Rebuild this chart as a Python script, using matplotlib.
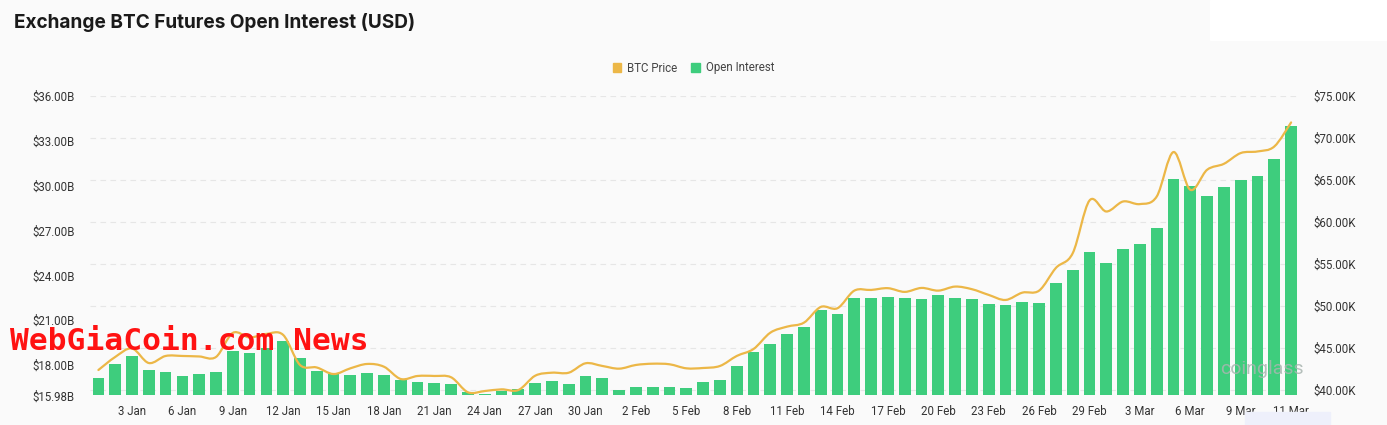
import numpy as np
import pandas as pd
import matplotlib
matplotlib.use("Agg")
import matplotlib.pyplot as plt
from matplotlib.path import Path
from matplotlib.patches import PathPatch, Patch, Rectangle
from matplotlib.ticker import FuncFormatter

# daily points, 1 Jan - 11 Mar 2024 plus the live point for 11 Mar
days = [f"{d.day} {d:%b}" for d in pd.date_range("2024-01-01", "2024-03-11")] + ["11 Mar"]

# open interest, billions USD
open_interest = [
    17.16, 18.06, 18.63, 17.70, 17.52, 17.30, 17.41, 17.52, 18.95, 18.79,
    19.13, 19.61, 18.46, 17.63, 17.39, 17.32, 17.50, 17.36, 17.04, 16.90,
    16.79, 16.74, 16.19, 16.09, 16.29, 16.39, 16.81, 16.92, 16.72, 17.28,
    17.14, 16.36, 16.56, 16.54, 16.54, 16.45, 16.90, 17.01, 17.96, 18.88,
    19.39, 20.08, 20.55, 21.70, 21.42, 22.49, 22.49, 22.53, 22.49, 22.44,
    22.67, 22.49, 22.40, 22.09, 22.00, 22.24, 22.15, 23.52, 24.36, 25.54,
    24.80, 25.74, 26.07, 27.16, 30.44, 29.99, 29.30, 29.88, 30.37, 30.66,
    31.77, 33.98,
]

# btc price, thousands USD
btc_price = [
    42.38, 43.93, 44.94, 43.21, 44.05, 44.05, 43.99, 43.93, 46.79, 46.25,
    46.67, 46.55, 42.98, 42.68, 41.90, 42.58, 43.10, 42.77, 41.31, 41.67,
    41.67, 41.51, 39.73, 39.88, 40.08, 40.00, 41.70, 42.06, 42.06, 43.18,
    42.86, 42.54, 42.98, 43.13, 43.06, 42.58, 42.62, 42.86, 44.05, 44.88,
    46.82, 47.54, 48.01, 49.88, 49.73, 51.82, 51.90, 52.11, 51.67, 52.14,
    51.82, 52.30, 51.99, 51.31, 50.71, 51.58, 51.82, 54.52, 56.27, 62.54,
    61.23, 62.42, 62.11, 63.01, 68.30, 63.81, 66.19, 66.90, 68.18, 68.37,
    68.96, 71.82,
]

oi_ticks = [15.98, 18, 21, 24, 27, 30, 33, 36]
price_ticks = [40, 45, 50, 55, 60, 65, 70, 75]

BG = "#fafafa"
GREEN = "#3ecd7d"
GOLD = "#ecb747"
TXT = "#333333"


def smooth_path(xs, ys):
    # catmull-rom through the points, as bezier segments
    pts = np.column_stack([xs, ys])
    verts = [pts[0]]
    codes = [Path.MOVETO]
    n = len(pts)
    for i in range(n - 1):
        p0 = pts[max(i - 1, 0)]
        p1 = pts[i]
        p2 = pts[i + 1]
        p3 = pts[min(i + 2, n - 1)]
        c1 = p1 + (p2 - p0) / 6.0
        c2 = p2 - (p3 - p1) / 6.0
        verts += [c1, c2, p2]
        codes += [Path.CURVE4] * 3
    return Path(verts, codes)


fig = plt.figure(figsize=(13.87, 4.25), dpi=100, facecolor=BG)
plt.rcParams["font.family"] = ["Roboto", "DejaVu Sans"]

ax = fig.add_axes([90 / 1387, 29.6 / 425, 1209.5 / 1387, 299.7 / 425])
ax.set_facecolor(BG)
ax_oi = ax.twinx()
ax_px = ax.twinx()
x = np.arange(len(days))

# price axis (right side) carries the dashed grid
ax.yaxis.tick_right()
ax.set_ylim(39.36, 75)
ax.set_yticks(price_ticks)
ax.yaxis.set_major_formatter(FuncFormatter(lambda v, p: f"${v:.2f}K"))
ax.grid(axis="y", color="#e6e6e6", linestyle=(0, (5, 4)), linewidth=0.8)
ax.set_axisbelow(True)

ax_oi.yaxis.tick_left()
ax_oi.bar(x, open_interest, width=0.7, color=GREEN, zorder=2)
ax_oi.set_ylim(15.98, 36)
ax_oi.set_yticks(oi_ticks)
ax_oi.yaxis.set_major_formatter(FuncFormatter(lambda v, p: f"${v:.2f}B"))

ax_px.set_ylim(39.36, 75)
ax_px.add_patch(PathPatch(smooth_path(x, btc_price), facecolor="none",
                          edgecolor=GOLD, linewidth=1.6, capstyle="round"))
ax_px.set_yticks([])

tick_idx = list(range(2, len(days) - 2, 3)) + [len(days) - 1]
for a in (ax, ax_oi, ax_px):
    a.set_xlim(-0.5, len(days) - 0.5)
    for s in a.spines.values():
        s.set_visible(False)
ax.set_xticks(tick_idx)
ax.set_xticklabels([days[i] for i in tick_idx])
ax.tick_params(axis="x", length=0, pad=7, labelsize=8.3, colors=TXT)
ax.tick_params(axis="y", length=0, pad=10, labelsize=8.3, colors=TXT)
ax_oi.tick_params(axis="y", length=0, pad=11, labelsize=8.3, colors=TXT)

fig.text(14 / 1387, 1 - 22 / 425, "Exchange BTC Futures Open Interest (USD)",
         family="Inter", weight="bold", fontsize=13.7, color="#1a1a1a", va="center")

handles = [Patch(color=GOLD, label="BTC Price"), Patch(color=GREEN, label="Open Interest")]
fig.legend(handles=handles, loc="center", bbox_to_anchor=(0.5, 1 - 68 / 425), ncol=2,
           frameon=False, fontsize=8.3, handlelength=0.75, handleheight=0.75,
           handletextpad=0.5, columnspacing=1.2, labelcolor="#444444")

# page bits around the chart
fig.patches.append(Rectangle((1210 / 1387, 1 - 40 / 425), 177 / 1387, 40 / 425,
                             transform=fig.transFigure, color="white", zorder=0))
fig.patches.append(Rectangle((1245 / 1387, 0), 85 / 1387, 13 / 425,
                             transform=fig.transFigure, color="#eef0fb", zorder=0))

# watermarks
fig.text(1220 / 1387, 1 - 369 / 425, "coinglass", fontsize=14, color="#a9b5b0",
         alpha=0.85, va="center", zorder=5)
fig.text(10 / 1387, 1 - 342 / 425, "WebGiaCoin.com News", family="DejaVu Sans Mono",
         weight="bold", fontsize=22.5, color="#ff1212", va="center", zorder=6)

fig.savefig("out.png", dpi=100, facecolor=BG)
